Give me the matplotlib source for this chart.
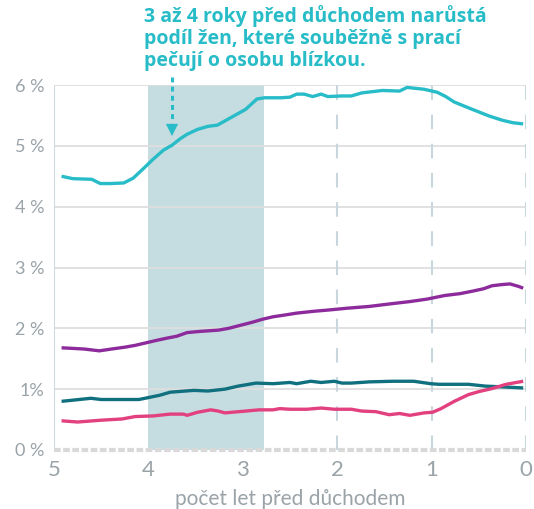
import matplotlib
matplotlib.use("Agg")
import matplotlib.pyplot as plt

# years before retirement / share of women (%)
cyan_x = [4.92, 4.80, 4.60, 4.51, 4.40, 4.26, 4.16, 4.05, 3.95, 3.84, 3.75, 3.66, 3.59, 3.48,
          3.37, 3.27, 3.12, 2.97, 2.85, 2.77, 2.60, 2.50, 2.43, 2.35, 2.26, 2.17, 2.10, 1.95,
          1.85, 1.74, 1.52, 1.34, 1.26, 1.08, 0.94, 0.85, 0.76, 0.57, 0.39, 0.25, 0.14, 0.03]
cyan_y = [4.50, 4.46, 4.45, 4.38, 4.38, 4.39, 4.47, 4.63, 4.78, 4.93, 5.01, 5.12, 5.19, 5.27,
          5.32, 5.34, 5.47, 5.60, 5.77, 5.79, 5.79, 5.80, 5.85, 5.85, 5.81, 5.85, 5.81, 5.82,
          5.82, 5.87, 5.91, 5.90, 5.96, 5.93, 5.88, 5.81, 5.72, 5.60, 5.49, 5.42, 5.38, 5.36]

purple_x = [4.92, 4.80, 4.68, 4.52, 4.39, 4.25, 4.14, 4.03, 3.92, 3.80, 3.70, 3.59, 3.45, 3.26,
            3.15, 3.05, 2.90, 2.79, 2.68, 2.55, 2.43, 2.25, 2.10, 1.90, 1.66, 1.45, 1.23, 1.05,
            0.86, 0.70, 0.57, 0.45, 0.36, 0.25, 0.17, 0.08, 0.03]
purple_y = [1.68, 1.67, 1.66, 1.63, 1.66, 1.69, 1.72, 1.76, 1.80, 1.84, 1.87, 1.93, 1.95, 1.97,
            2.00, 2.04, 2.10, 2.15, 2.19, 2.22, 2.25, 2.28, 2.30, 2.33, 2.36, 2.40, 2.44, 2.48,
            2.54, 2.57, 2.61, 2.65, 2.70, 2.72, 2.73, 2.69, 2.66]

teal_x = [4.92, 4.61, 4.50, 4.10, 3.88, 3.77, 3.52, 3.37, 3.19, 3.05, 2.86, 2.68, 2.50, 2.43,
          2.28, 2.17, 2.03, 1.95, 1.85, 1.66, 1.41, 1.19, 1.01, 0.92, 0.76, 0.61, 0.43, 0.28, 0.03]
teal_y = [0.80, 0.85, 0.83, 0.83, 0.90, 0.95, 0.98, 0.97, 1.00, 1.05, 1.10, 1.09, 1.11, 1.09,
          1.13, 1.11, 1.13, 1.10, 1.10, 1.12, 1.13, 1.13, 1.09, 1.08, 1.08, 1.08, 1.05, 1.04, 1.02]

pink_x = [4.92, 4.75, 4.50, 4.28, 4.14, 3.95, 3.77, 3.63, 3.59, 3.48, 3.34, 3.26, 3.19, 2.97,
          2.83, 2.68, 2.61, 2.50, 2.32, 2.17, 2.03, 1.85, 1.74, 1.59, 1.45, 1.34, 1.23, 1.08,
          0.99, 0.90, 0.76, 0.61, 0.50, 0.36, 0.21, 0.03]
pink_y = [0.48, 0.46, 0.49, 0.51, 0.55, 0.56, 0.59, 0.59, 0.57, 0.62, 0.66, 0.64, 0.61, 0.64,
          0.66, 0.66, 0.68, 0.67, 0.67, 0.69, 0.67, 0.67, 0.64, 0.63, 0.58, 0.60, 0.57, 0.61,
          0.62, 0.68, 0.80, 0.91, 0.96, 1.01, 1.08, 1.13]

y_ticks = [0, 1, 2, 3, 4, 5, 6]
y_labels = ["0 %", "1%", "2 %", "3 %", "4 %", "5 %", "6 %"]
x_ticks = [5, 4, 3, 2, 1, 0]
highlight = (4.0, 2.78)
arrow_x = 3.75
note = "3 až 4 roky před důchodem narůstá\npodíl žen, které souběžně s prací\npečují o osobu blízkou."

CYAN = "#27bcc7"
GRAY = "#9aa3a8"

fig = plt.figure(figsize=(5.34, 5.09), dpi=100)
ax = fig.add_axes([54 / 534, 1 - 450 / 509, 472 / 534, 365 / 509])
ax.set_xlim(5, 0)
ax.set_ylim(0, 6)

# highlighted period
ax.axvspan(highlight[0], highlight[1], color="#c5dde0", lw=0, zorder=0)

# grid
for y in y_ticks[1:]:
    ax.axhline(y, color="#dedede", lw=1.3, zorder=1)
for x in [2, 1, 0]:
    ax.axvline(x, color="#c9d6de", lw=1.5, linestyle=(0, (7, 7)), zorder=1)
ax.axvline(5, color="#cdd9e0", lw=1.5, zorder=1)
ax.axhline(0, color="#d9d9d9", lw=3, linestyle=(0, (1.6, 0.6)), zorder=1, clip_on=False)

ax.plot(cyan_x, cyan_y, color=CYAN, lw=2.4, zorder=3, solid_capstyle="butt")
ax.plot(purple_x, purple_y, color="#8d2b9c", lw=2.4, zorder=3, solid_capstyle="butt")
ax.plot(teal_x, teal_y, color="#11707f", lw=2.4, zorder=3, solid_capstyle="butt")
ax.plot(pink_x, pink_y, color="#e2407e", lw=2.4, zorder=3, solid_capstyle="butt")

# annotation arrow
ax.plot([arrow_x, arrow_x], [6.13, 5.38], color=CYAN, lw=2.2,
        linestyle=(0, (1.6, 1.4)), clip_on=False, zorder=4)
ax.annotate("", xy=(arrow_x, 5.16), xytext=(arrow_x, 5.38),
            arrowprops=dict(arrowstyle="-|>", color=CYAN, lw=0, mutation_scale=22,
                            shrinkA=0, shrinkB=0), annotation_clip=False, zorder=4)

fig.text(144 / 534, 1 - 5 / 509, note, color=CYAN, fontsize=14, fontweight="bold",
         family=["Open Sans", "DejaVu Sans"], va="top", ha="left", linespacing=1.12)

for s in ax.spines.values():
    s.set_visible(False)
ax.set_yticks(y_ticks)
ax.set_yticklabels(y_labels)
ax.set_xticks(x_ticks)
ax.tick_params(axis="y", length=0, pad=7, labelcolor=GRAY, labelsize=13)
ax.tick_params(axis="x", length=0, pad=7, labelcolor=GRAY, labelsize=16)
for lab in ax.get_xticklabels() + ax.get_yticklabels():
    lab.set_family(["Lato", "DejaVu Sans"])
ax.set_xlabel("počet let před důchodem", color=GRAY, fontsize=15,
              family=["Lato", "DejaVu Sans"], labelpad=7)

fig.savefig("out.png", dpi=100)
